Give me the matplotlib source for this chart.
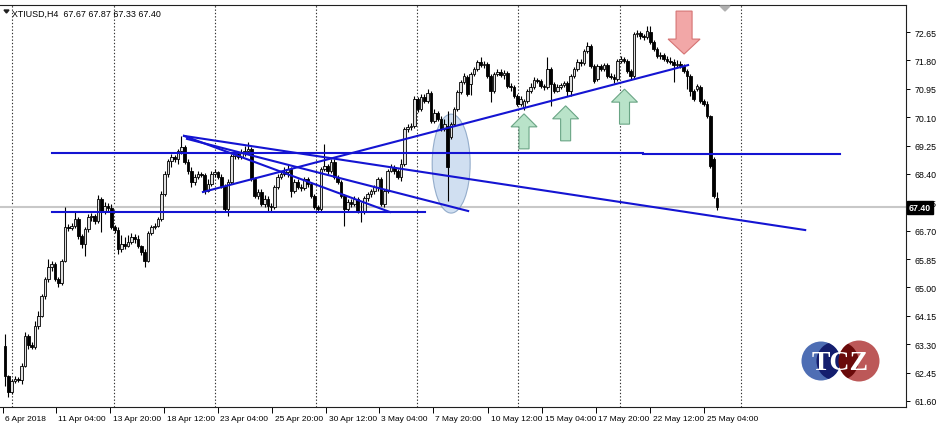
import numpy as np
import matplotlib.pyplot as plt
from matplotlib.patches import Ellipse, Circle, Polygon
from matplotlib.transforms import ScaledTranslation, blended_transform_factory

plt.rcParams['font.family'] = ['Liberation Sans', 'DejaVu Sans']

# XTIUSD H4 candles (bar 0 = first visible bar)
opens = [63.25, 62.35, 61.87, 62.20, 62.26, 62.23, 62.65, 63.55, 63.28, 63.22,
         63.85, 64.15, 64.75, 65.25, 65.61, 65.70, 65.25, 65.13, 65.79, 66.81,
         66.78, 66.84, 67.05, 66.54, 66.30, 66.75, 67.11, 67.14, 66.99, 67.65,
         67.26, 67.44, 67.38, 66.81, 66.72, 66.15, 66.30, 66.24, 66.36, 66.51,
         66.45, 66.24, 66.06, 65.79, 66.63, 66.81, 66.84, 67.05, 67.80, 68.40,
         68.79, 68.91, 68.85, 69.09, 69.21, 68.76, 68.49, 68.16, 68.31, 68.40,
         68.37, 67.89, 68.10, 68.40, 68.46, 68.31, 68.04, 67.35, 68.16, 68.94,
         69.00, 68.91, 69.06, 69.09, 69.15, 68.25, 67.74, 67.86, 67.50, 67.65,
         67.44, 67.41, 68.01, 68.31, 68.40, 68.46, 68.55, 67.89, 68.16, 68.01,
         67.98, 68.25, 68.10, 67.74, 67.41, 67.35, 68.55, 68.64, 68.49, 68.76,
         68.31, 68.16, 67.74, 67.35, 67.56, 67.50, 67.65, 67.29, 67.26, 67.68,
         67.80, 67.89, 68.01, 68.25, 67.50, 67.89, 68.49, 68.61, 68.49, 68.31,
         68.70, 69.75, 69.81, 69.84, 70.65, 70.35, 70.70, 70.59, 70.82, 69.99,
         70.23, 70.05, 69.75, 69.84, 69.51, 69.90, 70.35, 70.85, 71.15, 71.30,
         71.09, 71.39, 71.54, 71.75, 71.66, 71.69, 71.33, 70.88, 71.39, 71.45,
         71.36, 71.42, 71.03, 71.00, 70.73, 70.50, 70.41, 70.59, 70.88, 71.00,
         71.21, 71.18, 71.03, 71.00, 71.54, 71.09, 70.88, 71.00, 71.06, 71.12,
         70.88, 71.33, 71.54, 71.75, 71.72, 72.08, 72.23, 71.63, 71.24, 71.63,
         71.54, 71.66, 71.33, 71.30, 71.24, 71.78, 71.84, 71.78, 71.48, 71.33,
         72.59, 72.62, 72.53, 72.50, 72.65, 72.35, 72.14, 71.93, 71.96, 71.84,
         71.78, 71.75, 71.66, 71.69, 71.63, 71.48, 71.33, 70.88, 70.94, 71.00,
         70.59, 70.50, 70.14, 68.85, 67.67]
highs = [63.61, 62.38, 62.26, 62.35, 62.32, 62.74, 63.67, 63.61, 63.37, 64.00,
         64.30, 64.81, 65.31, 65.85, 65.79, 65.76, 65.31, 65.85, 67.41, 66.90,
         66.93, 67.26, 67.11, 66.60, 66.81, 67.20, 67.23, 67.20, 67.77, 67.71,
         67.56, 67.53, 67.50, 66.87, 66.81, 66.57, 66.51, 66.57, 66.63, 66.60,
         66.57, 66.27, 66.15, 66.69, 66.87, 66.93, 67.11, 67.89, 68.49, 68.85,
         69.00, 68.97, 69.15, 69.54, 69.27, 68.85, 68.61, 68.40, 68.49, 68.46,
         68.43, 68.25, 68.49, 68.55, 68.49, 68.40, 68.10, 68.25, 69.00, 69.09,
         69.06, 69.15, 69.24, 69.36, 69.21, 68.31, 67.95, 67.95, 67.77, 67.74,
         67.53, 68.07, 68.40, 68.49, 68.61, 68.70, 68.61, 68.25, 68.25, 68.10,
         68.31, 68.31, 68.16, 67.80, 67.47, 68.61, 69.30, 68.70, 68.85, 68.85,
         68.37, 68.22, 67.80, 67.65, 67.65, 67.74, 67.71, 67.56, 67.74, 67.86,
         67.95, 68.07, 68.31, 68.31, 67.95, 68.55, 68.70, 68.67, 68.55, 68.85,
         69.81, 69.90, 69.93, 70.73, 70.70, 70.79, 70.79, 70.94, 70.88, 70.35,
         70.29, 70.14, 70.05, 70.29, 69.96, 70.41, 70.91, 71.21, 71.42, 71.36,
         71.45, 71.60, 71.81, 71.90, 71.78, 71.75, 71.39, 71.45, 71.54, 71.54,
         71.51, 71.48, 71.12, 71.06, 70.79, 70.73, 70.65, 70.94, 71.12, 71.30,
         71.27, 71.24, 71.09, 71.90, 71.60, 71.15, 71.09, 71.12, 71.18, 71.18,
         71.39, 71.60, 71.84, 71.84, 72.14, 72.35, 72.29, 71.69, 71.69, 71.69,
         71.72, 71.72, 71.42, 71.39, 71.84, 71.93, 71.90, 71.84, 71.54, 72.65,
         72.71, 72.68, 72.59, 72.83, 72.83, 72.41, 72.20, 72.05, 72.02, 71.93,
         71.90, 71.84, 71.81, 71.78, 71.69, 71.54, 71.39, 70.94, 71.09, 71.06,
         70.65, 70.59, 70.17, 68.91, 67.87]
lows = [62.05, 61.72, 61.81, 62.14, 62.17, 62.11, 62.62, 63.16, 63.16, 63.16,
        63.76, 64.12, 64.66, 65.16, 65.49, 65.19, 65.01, 65.07, 65.76, 66.69,
        66.72, 66.78, 66.45, 66.18, 65.94, 66.66, 66.99, 66.90, 66.93, 66.66,
        67.20, 67.26, 66.75, 66.63, 66.00, 66.06, 66.15, 66.21, 66.30, 66.33,
        66.18, 65.97, 65.61, 65.76, 66.57, 66.75, 66.81, 66.99, 67.74, 68.31,
        68.61, 68.76, 68.70, 69.00, 68.70, 68.40, 68.01, 68.07, 68.25, 68.31,
        67.80, 67.86, 68.04, 68.31, 68.25, 67.98, 67.26, 67.14, 68.10, 68.85,
        68.85, 68.85, 68.94, 69.00, 68.19, 67.68, 67.65, 67.44, 67.41, 67.29,
        67.29, 67.35, 67.95, 68.25, 68.34, 68.31, 67.71, 67.83, 67.95, 67.89,
        67.92, 68.01, 67.68, 67.35, 67.26, 67.26, 68.49, 68.40, 68.43, 68.25,
        68.10, 67.68, 66.84, 67.29, 67.41, 67.44, 67.23, 66.96, 67.20, 67.59,
        67.71, 67.80, 67.89, 67.44, 67.41, 67.83, 68.46, 68.40, 68.25, 68.19,
        68.64, 69.66, 69.72, 69.78, 70.26, 70.29, 70.53, 70.53, 69.93, 69.93,
        69.99, 69.69, 69.69, 67.59, 69.45, 69.84, 70.29, 70.79, 71.09, 70.73,
        70.76, 71.33, 71.48, 71.60, 71.57, 71.27, 70.56, 70.82, 71.33, 71.30,
        71.24, 70.97, 70.88, 70.67, 70.44, 70.44, 70.32, 70.53, 70.82, 70.94,
        71.12, 70.97, 70.91, 70.94, 70.44, 70.82, 70.85, 70.94, 71.00, 70.73,
        70.73, 71.27, 71.48, 71.63, 71.66, 72.02, 71.57, 71.12, 71.18, 71.48,
        71.48, 71.27, 71.24, 71.12, 71.18, 71.72, 71.72, 71.42, 71.24, 71.27,
        72.50, 72.44, 72.41, 72.44, 72.29, 72.08, 71.87, 71.84, 71.78, 71.72,
        71.69, 71.15, 71.60, 71.57, 71.42, 70.94, 70.73, 70.59, 70.88, 70.53,
        70.44, 70.08, 68.58, 67.68, 67.33]
closes = [62.35, 61.87, 62.20, 62.26, 62.23, 62.65, 63.55, 63.28, 63.22, 63.85,
          64.15, 64.75, 65.25, 65.61, 65.70, 65.25, 65.13, 65.79, 66.81, 66.78,
          66.84, 67.05, 66.54, 66.30, 66.75, 67.11, 67.14, 66.99, 67.65, 67.26,
          67.44, 67.38, 66.81, 66.72, 66.15, 66.30, 66.24, 66.36, 66.51, 66.45,
          66.24, 66.06, 65.79, 66.63, 66.81, 66.84, 67.05, 67.80, 68.40, 68.79,
          68.91, 68.85, 69.09, 69.21, 68.76, 68.49, 68.16, 68.31, 68.40, 68.37,
          67.89, 68.10, 68.40, 68.46, 68.31, 68.04, 67.35, 68.16, 68.94, 69.00,
          68.91, 69.06, 69.09, 69.15, 68.25, 67.74, 67.86, 67.50, 67.65, 67.44,
          67.41, 68.01, 68.31, 68.40, 68.46, 68.55, 67.89, 68.16, 68.01, 67.98,
          68.25, 68.10, 67.74, 67.41, 67.35, 68.55, 68.64, 68.49, 68.76, 68.31,
          68.16, 67.74, 67.35, 67.56, 67.50, 67.65, 67.29, 67.26, 67.68, 67.80,
          67.89, 68.01, 68.25, 67.50, 67.89, 68.49, 68.61, 68.49, 68.31, 68.70,
          69.75, 69.81, 69.84, 70.65, 70.35, 70.70, 70.59, 70.82, 69.99, 70.23,
          70.05, 69.75, 69.90, 68.61, 69.90, 70.35, 70.85, 71.15, 71.33, 70.79,
          71.39, 71.54, 71.75, 71.66, 71.69, 71.33, 70.88, 71.39, 71.45, 71.36,
          71.42, 71.03, 71.00, 70.73, 70.50, 70.65, 70.59, 70.88, 71.00, 71.21,
          71.18, 71.03, 71.00, 71.54, 71.09, 70.88, 71.00, 71.06, 71.12, 70.88,
          71.33, 71.54, 71.75, 71.72, 72.08, 72.23, 71.63, 71.18, 71.63, 71.54,
          71.66, 71.33, 71.30, 71.24, 71.78, 71.84, 71.78, 71.48, 71.33, 72.59,
          72.62, 72.53, 72.50, 72.68, 72.35, 72.14, 71.93, 71.96, 71.84, 71.78,
          71.75, 71.66, 71.69, 71.63, 71.48, 71.33, 70.88, 70.65, 71.03, 70.59,
          70.50, 70.14, 68.64, 67.74, 67.40]

price_ticks = [72.65, 71.80, 70.95, 70.10, 69.25, 68.40, 67.55, 66.70,
               65.85, 65.00, 64.15, 63.30, 62.45, 61.60]
time_tick_pos = [-0.6, 15.3, 31.6, 47.8, 64.0, 80.3, 96.5, 112.4, 128.6,
                 145.2, 161.4, 177.6, 193.9, 210.1]
time_labels = ['6 Apr 2018', '11 Apr 04:00', '13 Apr 20:00', '18 Apr 12:00',
               '23 Apr 04:00', '25 Apr 20:00', '30 Apr 12:00', '3 May 04:00',
               '7 May 20:00', '10 May 12:00', '15 May 04:00', '17 May 20:00',
               '22 May 12:00', '25 May 04:00']
vgrid_pos = [2.1, 32.8, 63.1, 93.5, 123.8, 154.2, 184.8, 221.2]
last_price = 67.40

# chart objects: (bar start, bar end, price) and ((bar, price), (bar, price))
flat_lines = [(14.1, 191.8, 69.04), (191.8, 251.0, 69.00), (14.1, 126.2, 67.26)]
trend_lines = [((53.8, 69.54), (240.5, 66.72)),
               ((54.7, 69.45), (139.2, 67.29)),
               ((53.8, 69.54), (115.7, 67.26)),
               ((59.5, 67.86), (205.3, 71.66))]
up_arrows = [(156.0, 70.20), (168.5, 70.44), (186.2, 70.94)]   # tip positions
down_arrow = (204.1, 71.99)
ellipse_center = (134.1, 68.71)

W, H = 938, 427
fig = plt.figure(figsize=(W / 100, H / 100), dpi=100)
fig.patch.set_facecolor('white')
ax = fig.add_axes([0, 19 / H, 906 / W, 402 / H])

xmin, xmax = -1.5, 270.8
ymin, ymax = 61.42, 73.46
ax.set_xlim(xmin, xmax)
ax.set_ylim(ymin, ymax)
bx = (xmax - xmin) / 906.0      # bar units per pixel
py = (ymax - ymin) / 402.0      # price units per pixel

idx = np.arange(len(closes))
o = np.array(opens); c = np.array(closes)
hi = np.array(highs); lo = np.array(lows)

for g in vgrid_pos:
    ax.axvline(g, color='#303030', lw=0.8, ls=(0, (1.2, 1.8)), zorder=1)
ax.axhline(last_price, color='#c8c8c8', lw=1.5, zorder=1)

ax.add_patch(Ellipse(ellipse_center, 38 * bx, 99 * py, facecolor='#c5d8ee',
                     edgecolor='#7f9cc0', lw=0.8, alpha=0.8, zorder=1.5))

ax.vlines(idx, lo, hi, color='black', lw=0.8, zorder=2)
up = c >= o
body = np.maximum(np.abs(c - o), 0.02)
ax.bar(idx[up], body[up], bottom=o[up], width=0.8, color='#e0e0e0',
       edgecolor='black', linewidth=0.6, zorder=3)
ax.bar(idx[~up], body[~up], bottom=c[~up], width=0.8, color='black',
       edgecolor='black', linewidth=0.6, zorder=3)

blue = '#1414d2'
for x0, x1, p in flat_lines:
    ax.plot([x0, x1], [p, p], color=blue, lw=1.5, zorder=4)
for (x0, p0), (x1, p1) in trend_lines:
    ax.plot([x0, x1], [p0, p1], color=blue, lw=1.5, zorder=4)

def arrow_poly(xc, ytip, half_head, half_shaft, head_len, total_len, down=False):
    s = 1 if down else -1
    pts = [(0, 0), (half_head, head_len), (half_shaft, head_len),
           (half_shaft, total_len), (-half_shaft, total_len),
           (-half_shaft, head_len), (-half_head, head_len)]
    return [(xc + dx * bx, ytip + s * dy * py) for dx, dy in pts]

for xa, ya in up_arrows:
    ax.add_patch(Polygon(arrow_poly(xa, ya, 13, 5, 13, 35), closed=True,
                         facecolor='#b9e3c9', edgecolor='#6aa585', lw=0.8, zorder=6))
ax.add_patch(Polygon(arrow_poly(down_arrow[0], down_arrow[1], 16, 8, 15, 43, down=True),
                     closed=True, facecolor='#f2a7a7', edgecolor='#d57373', lw=0.8, zorder=6))

ax.spines['left'].set_visible(False)
for side in ['top', 'right', 'bottom']:
    ax.spines[side].set_color('#202020')
    ax.spines[side].set_linewidth(0.8)

ax.yaxis.tick_right()
ax.set_yticks(price_ticks)
ax.set_yticklabels(['%.2f' % v for v in price_ticks])
ax.tick_params(axis='y', direction='out', length=3, width=0.7, pad=3,
               labelsize=6.3, colors='black')
ax.set_xticks(time_tick_pos)
ax.set_xticklabels(time_labels, ha='left')
ax.tick_params(axis='x', direction='out', length=4, width=0.7, pad=2,
               labelsize=6, colors='black')
shift = ScaledTranslation(2.5 / 100, 0, fig.dpi_scale_trans)
for lab in ax.get_xticklabels():
    lab.set_transform(lab.get_transform() + shift)

# current price tag on the price scale
tr = blended_transform_factory(ax.transAxes, ax.transData)
ax.text(1.003, last_price, '%.2f' % last_price, transform=tr, fontsize=6.3,
        color='white', va='center', ha='left', zorder=10, clip_on=False,
        fontweight='bold',
        bbox=dict(boxstyle='square,pad=0.2', facecolor='black', edgecolor='black'))

# header and logo in pixel space
ov = fig.add_axes([0, 0, 1, 1], facecolor='none')
ov.set_xlim(0, W); ov.set_ylim(H, 0); ov.axis('off')
ov.set_aspect('equal')
ov.add_patch(Polygon([(4, 11), (9, 11), (6.5, 14)], closed=True, color='#202020'))
ov.text(12, 14, 'XTIUSD,H4  67.67 67.87 67.33 67.40', fontsize=6.4,
        va='center', ha='left', color='black')
ov.add_patch(Polygon([(720, 7), (730, 7), (725, 12)], closed=True, color='#b0b0b0'))

blue_c = Circle((821, 362), 19.5, facecolor='#4466b0', edgecolor='none', alpha=0.95)
red_c = Circle((859, 362), 20.5, facecolor='#b94f4f', edgecolor='none', alpha=0.95)
ov.add_patch(blue_c); ov.add_patch(red_c)
dark_b = Circle((836, 362), 19.5, facecolor='#141e6e', edgecolor='none')
ov.add_patch(dark_b); dark_b.set_clip_path(blue_c)
dark_r = Circle((839, 362), 19.5, facecolor='#6a0a0a', edgecolor='none')
ov.add_patch(dark_r); dark_r.set_clip_path(red_c)
ov.text(840, 364, 'TCZ', fontsize=20, fontweight='bold', family='Liberation Serif',
        color='white', ha='center', va='center')

fig.savefig('out.png', dpi=100, facecolor='white')
